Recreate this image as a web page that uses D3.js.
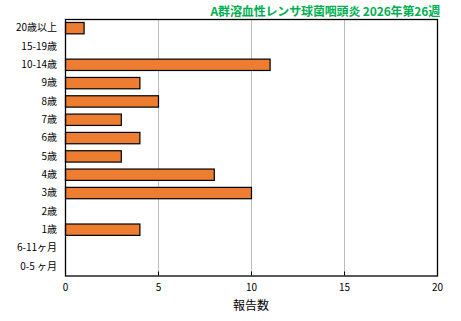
<!DOCTYPE html>
<html>
<head>
<meta charset="utf-8">
<script src="https://cdn.jsdelivr.net/npm/d3@7"></script>
<style>
body{margin:0;background:#fff}
text{font-family:"Noto Sans CJK JP",sans-serif}
</style>
</head>
<body>
<svg id="chart" width="461" height="321"></svg>
<script>
var categories = ['20歳以上','15-19歳','10-14歳','9歳','8歳','7歳','6歳','5歳','4歳','3歳','2歳','1歳','6-11ヶ月','0-5 ヶ月']
var values = [1,0,11,4,5,3,4,3,8,10,0,4,0,0]
var xTicks = [0,5,10,15,20]
var title = 'A群溶血性レンサ球菌咽頭炎 2026年第26週'
var xTitle = '報告数'

var svg = d3.select('#chart')
var pLeft = 65, pRight = 437, pTop = 19, pBottom = 275.5

var x = d3.scaleLinear().domain([0,20]).range([pLeft,pRight])
var y = d3.scaleBand().domain(categories).range([pTop,pBottom]).paddingInner(0.38).paddingOuter(0.19)

var rows = categories.map(function(c,i){ return {cat:c, val:values[i]} })

// grid
svg.append('g').selectAll('line').data(xTicks.slice(1,-1)).enter().append('line')
	.attr('x1',function(d){return x(d)+0.5}).attr('x2',function(d){return x(d)+0.5})
	.attr('y1',pTop).attr('y2',pBottom)
	.style('stroke','#bdbdbd').style('stroke-width',1)

// bars
svg.append('g').selectAll('rect').data(rows.filter(function(d){return d.val>0})).enter().append('rect')
	.attr('x',x(0)+0.5)
	.attr('y',function(d){return y(d.cat)})
	.attr('width',function(d){return x(d.val)-x(0)})
	.attr('height',y.bandwidth())
	.style('fill','#ED7D31').style('stroke','#000').style('stroke-width',1.2)

// frame
svg.append('rect').attr('x',pLeft+0.5).attr('y',pTop+0.5)
	.attr('width',pRight-pLeft).attr('height',pBottom-pTop)
	.style('fill','none').style('stroke','#000').style('stroke-width',1.3)

// x axis
var xAxis = d3.axisBottom(x).tickValues(xTicks).tickSize(0).tickPadding(8)
var gx = svg.append('g').attr('transform','translate(0,'+pBottom+')').call(xAxis)
gx.select('.domain').remove()
gx.selectAll('text').style('font-size','10px').style('fill','#000').style('font-family','"Noto Sans CJK JP",sans-serif')
svg.append('g').selectAll('line').data(xTicks.slice(1,-1)).enter().append('line')
	.attr('x1',function(d){return x(d)+0.5}).attr('x2',function(d){return x(d)+0.5})
	.attr('y1',pBottom-4).attr('y2',pBottom)
	.style('stroke','#000')

// y axis labels
var yAxis = d3.axisLeft(y).tickSize(0).tickPadding(8)
var gy = svg.append('g').attr('transform','translate('+pLeft+',0)').call(yAxis)
gy.select('.domain').remove()
gy.selectAll('text').style('font-size','10px').style('fill','#000').style('font-family','"Noto Sans CJK JP",sans-serif')

svg.append('text').text(xTitle).attr('x',(pLeft+pRight)/2).attr('y',310)
	.attr('text-anchor','middle').style('font-size','12px')

svg.append('text').text(title).attr('x',440).attr('y',16)
	.attr('text-anchor','end').style('font-size','12px').style('font-weight','bold')
	.style('letter-spacing','-0.15px')
	.style('fill','#00B050')
</script>
</body>
</html>
